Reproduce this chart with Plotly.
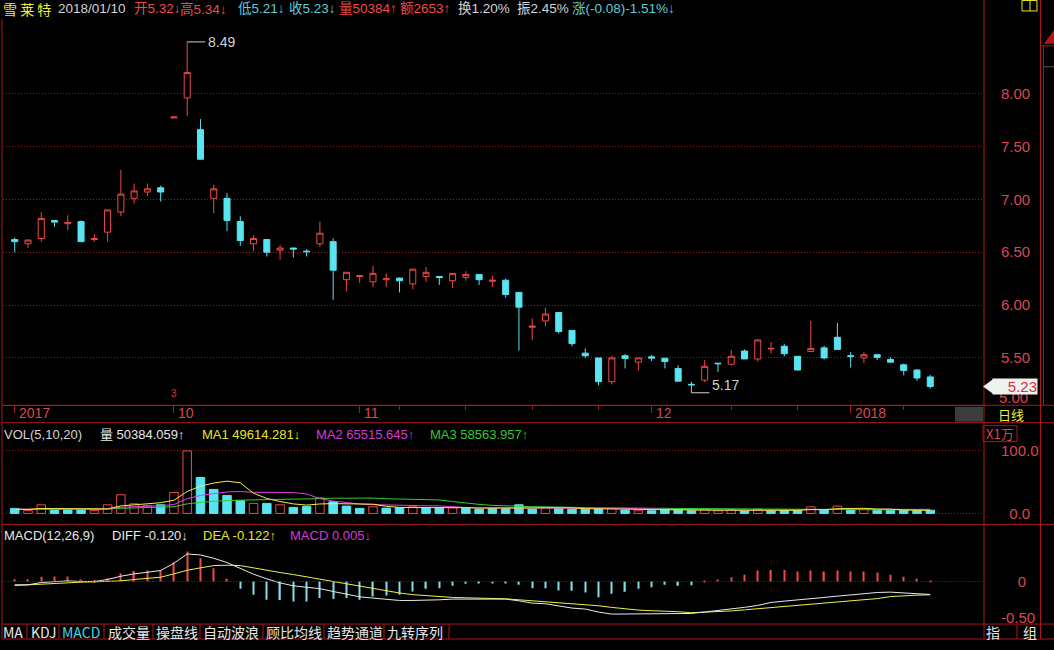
import plotly.graph_objects as go

W, H = 1054, 650

# ---------------- data ----------------
opens = [6.62, 6.58, 6.63, 6.80, 6.77, 6.79, 6.62, 6.69, 6.88, 7.01,
         7.07, 7.11, 7.77, 7.96, 7.66, 7.01, 7.01, 6.79, 6.58, 6.62,
         6.52, 6.54, 6.51, 6.58, 6.60, 6.24, 6.27, 6.22, 6.24, 6.255,
         6.20, 6.27, 6.27, 6.23, 6.26, 6.29, 6.225, 6.235, 6.12, 5.79,
         5.85, 5.93, 5.76, 5.545, 5.50, 5.275, 5.52, 5.46, 5.51, 5.497,
         5.40, 5.25, 5.29, 5.45, 5.44, 5.565, 5.49, 5.585, 5.61, 5.515,
         5.56, 5.595, 5.695, 5.52, 5.50, 5.53, 5.485, 5.435, 5.385, 5.32]
highs = [6.64, 6.62, 6.88, 6.80, 6.85, 6.80, 6.67, 6.90, 7.28, 7.15,
         7.15, 7.13, 7.78, 8.49, 7.76, 7.14, 7.06, 6.84, 6.66, 6.62,
         6.57, 6.54, 6.53, 6.79, 6.63, 6.31, 6.28, 6.37, 6.30, 6.26,
         6.34, 6.36, 6.27, 6.30, 6.32, 6.29, 6.28, 6.25, 6.12, 5.875,
         5.975, 5.93, 5.76, 5.59, 5.50, 5.52, 5.535, 5.50, 5.53, 5.50,
         5.43, 5.275, 5.48, 5.45, 5.575, 5.58, 5.675, 5.65, 5.63, 5.515,
         5.85, 5.615, 5.83, 5.555, 5.555, 5.54, 5.505, 5.445, 5.395, 5.34]
lows = [6.50, 6.54, 6.60, 6.74, 6.71, 6.60, 6.60, 6.60, 6.84, 6.96,
        7.03, 6.98, 7.77, 7.79, 7.38, 6.87, 6.70, 6.56, 6.51, 6.46,
        6.43, 6.45, 6.46, 6.55, 6.05, 6.13, 6.21, 6.17, 6.17, 6.12,
        6.15, 6.22, 6.19, 6.16, 6.23, 6.19, 6.17, 6.07, 5.57, 5.67,
        5.80, 5.73, 5.61, 5.50, 5.24, 5.25, 5.40, 5.38, 5.47, 5.40,
        5.28, 5.17, 5.27, 5.365, 5.43, 5.49, 5.465, 5.54, 5.515, 5.385,
        5.56, 5.485, 5.58, 5.41, 5.45, 5.48, 5.46, 5.335, 5.285, 5.21]
closes = [6.60, 6.615, 6.82, 6.785, 6.78, 6.60, 6.63, 6.90, 7.05, 7.08,
          7.10, 7.07, 7.78, 8.20, 7.38, 7.10, 6.80, 6.61, 6.63, 6.50,
          6.54, 6.53, 6.505, 6.68, 6.33, 6.31, 6.28, 6.30, 6.25, 6.23,
          6.34, 6.31, 6.26, 6.30, 6.29, 6.24, 6.235, 6.10, 5.98, 5.80,
          5.915, 5.75, 5.635, 5.52, 5.275, 5.50, 5.495, 5.50, 5.498, 5.465,
          5.28, 5.245, 5.42, 5.445, 5.515, 5.49, 5.67, 5.59, 5.54, 5.385,
          5.59, 5.50, 5.58, 5.515, 5.53, 5.505, 5.46, 5.38, 5.31, 5.23]

# volume in units of 10,000 (X1万)
volume = [8.0, 4.8, 13.8, 5.8, 5.8, 5.8, 4.8, 13.8, 29.8, 15.4,
          12.8, 13.8, 33.5, 100.0, 57.4, 38.3, 28.7, 20.7, 16.0, 16.0,
          13.8, 9.6, 11.2, 25.0, 18.6, 11.7, 8.0, 10.6, 8.5, 9.0,
          10.6, 9.0, 9.0, 9.0, 8.5, 6.9, 8.0, 8.0, 13.8, 6.9,
          9.0, 8.0, 6.9, 6.4, 8.0, 8.0, 5.4, 4.2, 4.2, 5.6,
          5.6, 4.2, 6.8, 4.2, 5.8, 4.2, 6.8, 4.2, 4.8, 5.0,
          10.5, 5.8, 11.8, 6.0, 6.6, 4.9, 5.0, 4.9, 5.0, 5.04]
vol_ma1 = [6.72, 6.4, 7.88, 7.76, 7.64, 7.2, 7.2, 7.2, 12.0, 13.92,
           15.32, 17.12, 21.06, 35.1, 43.5, 48.6, 51.58, 49.02, 32.22, 23.94,
           19.04, 15.22, 13.32, 15.12, 15.64, 15.22, 14.9, 14.78, 11.48, 9.56,
           9.34, 9.54, 9.22, 9.32, 9.22, 8.48, 8.28, 8.08, 9.04, 8.72,
           9.14, 9.14, 8.92, 7.44, 7.66, 7.46, 6.94, 6.4, 5.96, 5.48,
           5.0, 4.76, 5.28, 5.28, 5.32, 5.04, 5.56, 5.04, 5.16, 5.0,
           6.26, 6.06, 7.58, 7.82, 8.14, 7.02, 6.86, 5.48, 5.28, 4.96]
vol_ma2 = [6.56, 6.4, 7.14, 7.08, 7.02, 6.96, 6.8, 7.54, 9.88, 10.78,
           11.26, 12.16, 14.13, 23.55, 28.71, 31.96, 34.35, 35.04, 33.66, 33.72,
           33.82, 33.4, 31.17, 23.67, 19.79, 17.13, 15.06, 14.05, 13.3, 12.6,
           12.28, 12.22, 12.0, 10.4, 9.39, 8.91, 8.91, 8.65, 9.18, 8.97,
           8.81, 8.71, 8.5, 8.24, 8.19, 8.3, 8.04, 7.66, 6.7, 6.57,
           6.23, 5.85, 5.84, 5.62, 5.4, 5.02, 5.16, 5.16, 5.22, 5.16,
           5.65, 5.81, 6.31, 6.49, 6.57, 6.64, 6.46, 6.53, 6.55, 6.55]
vol_ma3 = [6.48, 6.4, 6.77, 6.74, 6.71, 6.68, 6.6, 6.97, 8.14, 8.59,
           8.91, 9.28, 10.64, 15.32, 17.87, 19.46, 20.58, 21.29, 21.77, 22.25,
           22.54, 22.78, 22.65, 23.61, 24.25, 24.55, 24.71, 24.55, 23.48, 23.16,
           23.05, 22.81, 21.59, 19.0, 16.5, 14.5, 12.8, 11.8, 11.24, 10.79,
           10.55, 10.47, 10.25, 9.32, 8.79, 8.61, 8.48, 8.16, 7.94, 7.77,
           7.52, 7.28, 7.17, 6.93, 6.8, 6.66, 6.6, 6.41, 5.96, 5.87,
           5.94, 5.83, 6.08, 6.06, 5.99, 5.83, 5.81, 5.85, 5.89, 5.86]

diff = [-0.046, -0.046, -0.014, 0.0, 0.009, 0.0, 0.0, 0.028, 0.074, 0.106,
        0.13, 0.153, 0.255, 0.384, 0.37, 0.324, 0.264, 0.185, 0.102, 0.037,
        -0.019, -0.06, -0.083, -0.1, -0.139, -0.176, -0.213, -0.231, -0.245, -0.264,
        -0.264, -0.264, -0.255, -0.245, -0.245, -0.245, -0.245, -0.245, -0.269, -0.301,
        -0.31, -0.338, -0.37, -0.384, -0.426, -0.454, -0.454, -0.454, -0.454, -0.454,
        -0.454, -0.445, -0.425, -0.405, -0.385, -0.36, -0.333, -0.292, -0.273, -0.259,
        -0.241, -0.222, -0.204, -0.185, -0.167, -0.153, -0.148, -0.155, -0.17, -0.18]
dea = [-0.056, -0.046, -0.032, -0.032, -0.014, -0.009, -0.005, 0.0, 0.009, 0.028,
       0.042, 0.06, 0.106, 0.157, 0.19, 0.222, 0.227, 0.222, 0.19, 0.153,
       0.125, 0.097, 0.065, 0.032, 0.0, -0.032, -0.065, -0.1, -0.134, -0.16,
       -0.183, -0.199, -0.213, -0.222, -0.227, -0.231, -0.236, -0.241, -0.255, -0.269,
       -0.278, -0.287, -0.306, -0.319, -0.338, -0.361, -0.38, -0.398, -0.407, -0.412,
       -0.421, -0.435, -0.43, -0.42, -0.41, -0.395, -0.38, -0.365, -0.35, -0.335,
       -0.318, -0.30, -0.283, -0.267, -0.252, -0.238, -0.21, -0.198, -0.19, -0.185]
macd = [0.032, 0.032, 0.065, 0.069, 0.069, 0.028, 0.023, 0.046, 0.116, 0.148,
        0.153, 0.153, 0.269, 0.417, 0.324, 0.185, 0.037, -0.102, -0.185, -0.255,
        -0.259, -0.278, -0.278, -0.231, -0.245, -0.231, -0.255, -0.208, -0.194, -0.185,
        -0.139, -0.102, -0.093, -0.06, -0.032, -0.023, -0.014, -0.023, -0.046, -0.093,
        -0.093, -0.125, -0.13, -0.153, -0.218, -0.171, -0.144, -0.102, -0.079, -0.046,
        -0.06, -0.051, 0.01, 0.028, 0.06, 0.093, 0.153, 0.162, 0.162, 0.139,
        0.153, 0.139, 0.153, 0.139, 0.139, 0.125, 0.093, 0.065, 0.037, 0.005]

month_ticks = [0, 12, 26, 48, 63]
month_labels = ["2017", "10", "11", "12", "2018"]
week_ticks = [29, 34, 39, 44, 54, 59, 67]
price_ticks = [5.5, 6.0, 6.5, 7.0, 7.5, 8.0]
vol_ticks = [0, 100]
macd_ticks = [0, -0.5]
info_mark_index = 12

# ---------------- styling ----------------
FONT = "Liberation Sans, Arial, Noto Sans CJK SC, sans-serif"
CJK = "Noto Sans CJK SC, Liberation Sans, sans-serif"
RED = "#f04848"
CYAN = "#58e4f0"
CYAN2 = "#86dde8"
AXRED = "#dc4650"
BORDER = "#a8181e"
GRID = "#a01c1c"
YEL = "#f0f040"
MAG = "#e040e0"
GRN = "#30d030"
WHITE = "#e8e8e8"

idx = list(range(len(closes)))
XD = [2.5 / W, 984 / W]
Y_MAIN = [1 - 406.5 / H, 1 - 20 / H]
Y_VOL = [1 - 525.5 / H, 1 - 424 / H]
Y_MACD = [1 - 626 / H, 1 - 526 / H]


def py(p):
    return 1 - p / H


fig = go.Figure()

# candles
fig.add_trace(go.Candlestick(
    x=idx, open=opens, high=highs, low=lows, close=closes,
    increasing=dict(line=dict(color=RED, width=1), fillcolor="#000000"),
    decreasing=dict(line=dict(color=CYAN, width=1), fillcolor=CYAN),
    whiskerwidth=0, xaxis="x", yaxis="y", hoverinfo="skip", showlegend=False))

# volume
vol_up = [(closes[i] >= closes[i - 1]) if i > 0 else (closes[0] >= opens[0]) for i in idx]
fig.add_trace(go.Bar(
    x=idx, y=volume, width=0.64, xaxis="x2", yaxis="y2",
    marker=dict(color=["#000000" if u else CYAN for u in vol_up],
                line=dict(color=[RED if u else CYAN for u in vol_up], width=1)),
    hoverinfo="skip", showlegend=False))
for ser, col in [(vol_ma3, GRN), (vol_ma2, MAG), (vol_ma1, YEL)]:
    fig.add_trace(go.Scatter(x=idx, y=ser, mode="lines", line=dict(color=col, width=1),
                             xaxis="x2", yaxis="y2", hoverinfo="skip", showlegend=False))

# MACD
fig.add_trace(go.Bar(
    x=idx, y=macd, width=0.1, xaxis="x3", yaxis="y3",
    marker=dict(color=[RED if v >= 0 else CYAN2 for v in macd], line=dict(width=0)),
    hoverinfo="skip", showlegend=False))
fig.add_trace(go.Scatter(x=idx, y=dea, mode="lines", line=dict(color=YEL, width=1),
                         xaxis="x3", yaxis="y3", hoverinfo="skip", showlegend=False))
fig.add_trace(go.Scatter(x=idx, y=diff, mode="lines", line=dict(color=WHITE, width=1),
                         xaxis="x3", yaxis="y3", hoverinfo="skip", showlegend=False))

xr = [-0.92, 73.05]
common_y = dict(side="right", ticks="outside", ticklen=13, tickcolor="rgba(0,0,0,0)",
                zeroline=False, showline=False, fixedrange=True,
                tickfont=dict(family=FONT, size=15, color=AXRED))

fig.update_layout(
    width=W, height=H, margin=dict(l=0, r=0, t=0, b=0),
    paper_bgcolor="#000000", plot_bgcolor="#000000",
    showlegend=False, hovermode=False, boxgap=0.35,
    xaxis=dict(domain=XD, range=xr, anchor="y", rangeslider=dict(visible=False),
               showgrid=False, zeroline=False, showline=True, linecolor=BORDER,
               tickmode="array", tickvals=month_ticks, showticklabels=False,
               ticks="outside", ticklen=7, tickcolor=BORDER,
               minor=dict(tickmode="array", tickvals=week_ticks, ticks="outside",
                          ticklen=4, tickcolor=BORDER, showgrid=False),
               fixedrange=True),
    yaxis=dict(domain=Y_MAIN, range=[5.052, 8.698], anchor="x",
               tickmode="array", tickvals=price_ticks,
               ticktext=[f"{v:.2f}" for v in price_ticks],
               showgrid=True, gridcolor=GRID, griddash="1px,2px", gridwidth=1,
               **common_y),
    xaxis2=dict(domain=XD, range=xr, anchor="y2", matches="x", showgrid=False,
                zeroline=False, showticklabels=False, ticks="", fixedrange=True),
    yaxis2=dict(domain=Y_VOL, range=[-16.75, 145.1], anchor="x2",
                tickmode="array", tickvals=vol_ticks, ticktext=["\u20070.0", "100.0"],
                showgrid=True, gridcolor=GRID, griddash="1px,2px", gridwidth=1,
                **common_y),
    xaxis3=dict(domain=XD, range=xr, anchor="y3", matches="x", showgrid=False,
                zeroline=False, showticklabels=False, ticks="", fixedrange=True),
    yaxis3=dict(domain=Y_MACD, range=[-0.593, 0.796], anchor="x3",
                tickmode="array", tickvals=macd_ticks, ticktext=["\u2007\u20070", "-0.50"],
                showgrid=False, **common_y),
)

shapes = []


def hline(y, x0, x1, color=BORDER, dash=None, width=1):
    shapes.append(dict(type="line", xref="paper", yref="paper", x0=x0 / W, x1=x1 / W,
                       y0=py(y), y1=py(y), line=dict(color=color, width=width, dash=dash)))


def vline(x, y0, y1, color=BORDER, width=1):
    shapes.append(dict(type="line", xref="paper", yref="paper", x0=x / W, x1=x / W,
                       y0=py(y0), y1=py(y1), line=dict(color=color, width=width)))


# panel borders
vline(2, 19, 641)
vline(984, 0, 641)
vline(1040.5, 0, 641)
vline(1043.5, 46, 406)
for yy in (406.5, 424, 526, 626, 641):
    hline(yy, 2, 1054)
hline(46, 1040, 1054)
hline(67, 1043, 1054, color="#555555")

# MACD zero line (dotted)
shapes.append(dict(type="line", xref="x3 domain", yref="y3", x0=0, x1=1, y0=0, y1=0,
                   line=dict(color=GRID, width=1, dash="1px,2px")))

# high / low markers
hi_i = highs.index(max(highs))
lo_i = lows.index(min(lows))
for i_, val in ((hi_i, highs[hi_i]), (lo_i, lows[lo_i])):
    shapes.append(dict(type="line", xref="x", xsizemode="pixel", xanchor=i_, x0=0, x1=18,
                       yref="y", y0=val, y1=val, line=dict(color="#cfcfcf", width=1)))

# last-price tag arrow
shapes.append(dict(type="path", xref="paper", yref="y", ysizemode="pixel",
                   yanchor=closes[-1],
                   path=f"M {983/W},0 L {994/W},8 L {994/W},-8 Z",
                   fillcolor="#eef3ee", line=dict(width=0)))

# tab-row separators
for sx in (27, 59, 104, 153, 200, 263, 324, 384, 449, 1017):
    vline(sx, 626, 641)

# X1万 box
shapes.append(dict(type="rect", xref="paper", yref="paper", x0=983 / W, x1=1017 / W,
                   y0=py(443), y1=py(427), line=dict(color=BORDER, width=1)))
# grey scroll box
shapes.append(dict(type="rect", xref="paper", yref="paper", x0=955 / W, x1=983 / W,
                   y0=py(423), y1=py(408), fillcolor="#3c3c3c", line=dict(width=0)))
# top-right yellow icon
shapes.append(dict(type="rect", xref="paper", yref="paper", x0=1022 / W, x1=1037 / W,
                   y0=py(11), y1=py(0.5), line=dict(color="#e8e820", width=1)))
vline(1030, 0.5, 11, color="#e8e820")
# red corner triangle
shapes.append(dict(type="path", xref="paper", yref="paper",
                   path=f"M {1044/W},{py(44)} L {1054/W},{py(30)} L {1054/W},{py(44)} Z",
                   fillcolor="#b01818", line=dict(width=0)))

fig.update_layout(shapes=shapes)


def txt(x, y, s, color, size=13, anchor="left", family=FONT, **kw):
    fig.add_annotation(x=x / W, y=py(y), xref="paper", yref="paper", text=s,
                       showarrow=False, xanchor=anchor, yanchor="middle",
                       font=dict(family=family, size=size, color=color), **kw)


HRED = "#f04a4a"
HCYAN = "#5cccdc"
HWHITE = "#d4d4d4"

# header line
txt(1, 9, "雪 莱 特", "#f0f030", size=14, family=CJK)
txt(56, 9, "2018/01/10", HWHITE, size=13.5)
txt(132, 9, "开5.32↓", HRED, size=13.5)
txt(178, 9, "高5.34↓", HRED, size=13.5)
txt(236, 9, "低5.21↓", HCYAN, size=13.5)
txt(287, 9, "收5.23↓", HCYAN, size=13.5)
txt(337, 9, "量50384↑", HRED, size=13.5)
txt(398, 9, "额2653↑", HRED, size=13.5)
txt(456, 9, "换1.20%", HWHITE, size=13.5)
txt(515, 9, "振2.45%", HWHITE, size=13.5)
txt(570, 9, "涨(-0.08)-1.51%↓", HCYAN, size=13.5)

# volume header
txt(2, 436, "VOL(5,10,20)", HWHITE, size=13)
txt(98, 436, "量 50384.059↑", WHITE, size=13)
txt(200, 436, "MA1 49614.281↓", "#e6e628", size=13)
txt(314, 436, "MA2 65515.645↑", "#d838d8", size=13)
txt(428, 436, "MA3 58563.957↑", "#30c830", size=13)

# MACD header
txt(2, 537, "MACD(12,26,9)", WHITE, size=13)
txt(110, 537, "DIFF -0.120↓", WHITE, size=13)
txt(201, 537, "DEA -0.122↑", "#e6e628", size=13)
txt(288, 537, "MACD 0.005↓", "#d838d8", size=13)

# tab row
tabs = [(1, "MA", WHITE), (29, "KDJ", WHITE), (60, "MACD", "#40d8e8"),
        (106, "成交量", WHITE), (154, "操盘线", WHITE), (201, "自动波浪", WHITE),
        (264, "顾比均线", WHITE), (325, "趋势通道", WHITE), (385, "九转序列", WHITE)]
for tx, s, c in tabs:
    txt(tx, 634, s, c, size=14, family=CJK)
txt(984, 634, "指", WHITE, size=14, family=CJK)
txt(1021, 634, "组", WHITE, size=14, family=CJK)

# right-side labels
txt(1000, 435, "X1万", AXRED, size=13, family=CJK, anchor="center")
txt(996, 415.5, "日线", "#f0f030", size=13, family=CJK)
txt(1013.5, 398.5, "5.00", AXRED, size=15, anchor="center")

# last price tag text (drawn over 5.00)
fig.add_annotation(x=1038 / W, xref="paper", y=closes[-1], yref="y", text=f"{closes[-1]:.2f}",
                   showarrow=False, xanchor="right", yanchor="middle", width=44, height=15,
                   align="right", bgcolor="#eef3ee", borderpad=0,
                   font=dict(family=FONT, size=15, color="#e02838"))

# date labels
for v, lab in zip(month_ticks, month_labels):
    fig.add_annotation(x=v, xref="x", y=py(414.5), yref="paper", text=lab, showarrow=False,
                       xanchor="left", yanchor="middle", xshift=2,
                       font=dict(family=FONT, size=14, color=AXRED))

# info marker
fig.add_annotation(x=info_mark_index, xref="x", y=py(395), yref="paper", text="3",
                   showarrow=False, xanchor="center", yanchor="middle",
                   font=dict(family=FONT, size=10, color="#e03030"))

# high / low labels
fig.add_annotation(x=hi_i, xref="x", y=highs[hi_i], yref="y", text=f"{highs[hi_i]:.2f}",
                   showarrow=False, xanchor="left", yanchor="middle", xshift=19,
                   font=dict(family=FONT, size=14, color="#d0d0d0"))
fig.add_annotation(x=lo_i, xref="x", y=lows[lo_i], yref="y", text=f"{lows[lo_i]:.2f}",
                   showarrow=False, xanchor="left", yanchor="middle", xshift=19, yshift=8,
                   font=dict(family=FONT, size=14, color="#d0d0d0"))

fig.write_html("out.html", config={"displayModeBar": False},
               post_script="document.body.style.margin='0px';document.body.style.overflow='hidden';")
